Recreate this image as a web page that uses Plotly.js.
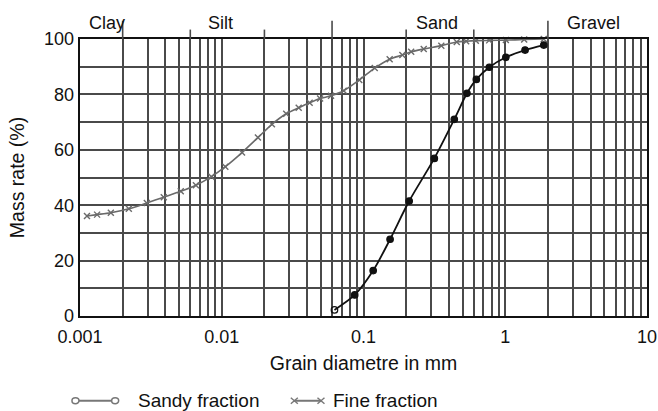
<!DOCTYPE html>
<html>
<head>
<meta charset="utf-8">
<script src="https://cdn.plot.ly/plotly-3.0.1.min.js"></script>
<style>html,body{margin:0;padding:0;background:#fff;}#chart{width:658px;height:411px;}</style>
</head>
<body>
<div id="chart"></div>
<script>
// Sandy fraction (grain diameter mm, mass rate %)
const sandyX = [0.0624, 0.0867, 0.117, 0.154, 0.210, 0.316, 0.437, 0.537, 0.625, 0.772, 1.01, 1.38, 1.87];
const sandyY = [2.2, 7.6, 16.4, 27.7, 41.5, 56.9, 71.0, 80.4, 85.4, 89.8, 93.4, 96.0, 97.8];
// Fine fraction
const fineX = [0.00112, 0.00132, 0.00165, 0.00221, 0.00296, 0.0039, 0.00514, 0.00657, 0.00846, 0.0106, 0.0139, 0.018, 0.0226, 0.0285, 0.0349, 0.0417, 0.0494, 0.059, 0.0725, 0.0934, 0.12, 0.153, 0.188, 0.217, 0.266, 0.354, 0.455, 0.53, 0.62, 0.77, 1.01, 1.36, 1.87];
const fineY = [36.1, 36.6, 37.3, 38.7, 40.8, 42.9, 45.0, 47.2, 50.3, 53.9, 59.0, 64.4, 69.2, 73.0, 75.2, 77.0, 78.5, 79.5, 81.3, 85.2, 89.5, 92.7, 94.2, 95.4, 96.4, 97.6, 98.9, 99.2, 99.4, 99.5, 99.6, 99.8, 100];
// Soil classes
const classNames = ["Clay", "Silt", "Sand", "Gravel"];
const classLabelX = [0.00155, 0.0098, 0.33, 4.2];
const majorBounds = [0.002, 0.06, 2];
const minorBounds = [0.006, 0.02, 0.2, 0.6];
const xTickVals = [0.001, 0.01, 0.1, 1, 10];
const xTickText = ["0.001", "0.01", "0.1", "1", "10"];
const yTickVals = [0, 20, 40, 60, 80, 100];
const legendNames = ["Sandy fraction", "Fine fraction"];

const FONT = "Liberation Sans, Arial, Helvetica, sans-serif";
const GRID = "#4a4a4a";
const GW = 2;

const traces = [
  {
    x: fineX, y: fineY, type: "scatter", mode: "lines+markers", name: legendNames[1],
    line: {color: "#6a6a6a", width: 1.6, shape: "spline", smoothing: 0.8},
    marker: {symbol: "x-thin-open", size: 6, color: "#6a6a6a", line: {color: "#6a6a6a", width: 1.4}},
    showlegend: false, cliponaxis: false
  },
  {
    x: sandyX, y: sandyY, type: "scatter", mode: "lines+markers", name: legendNames[0],
    line: {color: "#111", width: 1.8, shape: "spline", smoothing: 0.8},
    marker: {symbol: sandyX.map((v, i) => i === 0 ? "circle-open" : "circle"), size: 6.5, color: "#111", line: {color: "#111", width: 1.2}},
    showlegend: false, cliponaxis: false
  }
];

const shapes = [];
majorBounds.forEach(v => shapes.push({type: "line", xref: "x", yref: "paper", x0: v, x1: v, y0: 1, y1: 1.066, line: {color: GRID, width: 1.6}}));
minorBounds.forEach(v => shapes.push({type: "line", xref: "x", yref: "paper", x0: v, x1: v, y0: 1, y1: 1.034, line: {color: GRID, width: 1.6}}));

// Custom legend (paper coords)
const ly = -0.306;
shapes.push({type: "line", xref: "paper", yref: "paper", x0: -0.008, x1: 0.062, y0: ly, y1: ly, line: {color: "#777", width: 2.2}});
[-0.008, 0.062].forEach(px => shapes.push({type: "circle", xref: "paper", yref: "paper", xsizemode: "pixel", ysizemode: "pixel", xanchor: px, yanchor: ly, x0: -3.5, x1: 3.5, y0: -3, y1: 3, fillcolor: "#fff", line: {color: "#777", width: 1.5}}));
shapes.push({type: "line", xref: "paper", yref: "paper", x0: 0.378, x1: 0.425, y0: ly, y1: ly, line: {color: "#777", width: 2}});
[0.378, 0.425].forEach(px => {
  shapes.push({type: "line", xref: "paper", yref: "paper", xsizemode: "pixel", ysizemode: "pixel", xanchor: px, yanchor: ly, x0: -3.5, x1: 3.5, y0: -3, y1: 3, line: {color: "#777", width: 1.4}});
  shapes.push({type: "line", xref: "paper", yref: "paper", xsizemode: "pixel", ysizemode: "pixel", xanchor: px, yanchor: ly, x0: -3.5, x1: 3.5, y0: 3, y1: -3, line: {color: "#777", width: 1.4}});
});

const annotations = classNames.map((n, i) => ({
  text: n, xref: "x", yref: "paper", x: Math.log10(classLabelX[i]), y: 1.058, yanchor: "middle", xanchor: "center",
  showarrow: false, font: {family: FONT, size: 18, color: "#111"}
}));
annotations.push({text: legendNames[0], xref: "paper", yref: "paper", x: 0.098, y: ly, xanchor: "left", yanchor: "middle", showarrow: false, font: {family: FONT, size: 19, color: "#111"}});
annotations.push({text: legendNames[1], xref: "paper", yref: "paper", x: 0.443, y: ly, xanchor: "left", yanchor: "middle", showarrow: false, font: {family: FONT, size: 19, color: "#111"}});

const layout = {
  width: 658, height: 411,
  margin: {l: 80, r: 11, t: 39, b: 95},
  paper_bgcolor: "#fff", plot_bgcolor: "#fff",
  font: {family: FONT, size: 18, color: "#111"},
  showlegend: false,
  xaxis: {
    type: "log", range: [-3, 1], tickvals: xTickVals, ticktext: xTickText,
    showgrid: true, gridcolor: GRID, gridwidth: GW,
    minor: {dtick: "D1", showgrid: true, gridcolor: GRID, gridwidth: GW, ticks: ""},
    showline: true, linecolor: "#111", linewidth: 2.4, mirror: true, ticks: "", zeroline: false,
    ticklabelstandoff: 3,
    tickfont: {family: FONT, size: 18, color: "#111"},
    title: {text: "Grain diametre in mm", font: {family: FONT, size: 19.5, color: "#111"}, standoff: 11}
  },
  yaxis: {
    range: [0, 100], tickvals: yTickVals,
    showgrid: true, gridcolor: GRID, gridwidth: GW,
    minor: {dtick: 10, tick0: 0, showgrid: true, gridcolor: GRID, gridwidth: GW, ticks: ""},
    showline: true, linecolor: "#111", linewidth: 2.4, mirror: true, ticks: "", zeroline: false,
    tickfont: {family: FONT, size: 18, color: "#111"},
    title: {text: "Mass rate (%)", font: {family: FONT, size: 19.5, color: "#111"}, standoff: 14}
  },
  shapes: shapes,
  annotations: annotations
};

Plotly.newPlot("chart", traces, layout, {displayModeBar: false, staticPlot: true});
</script>
</body>
</html>
